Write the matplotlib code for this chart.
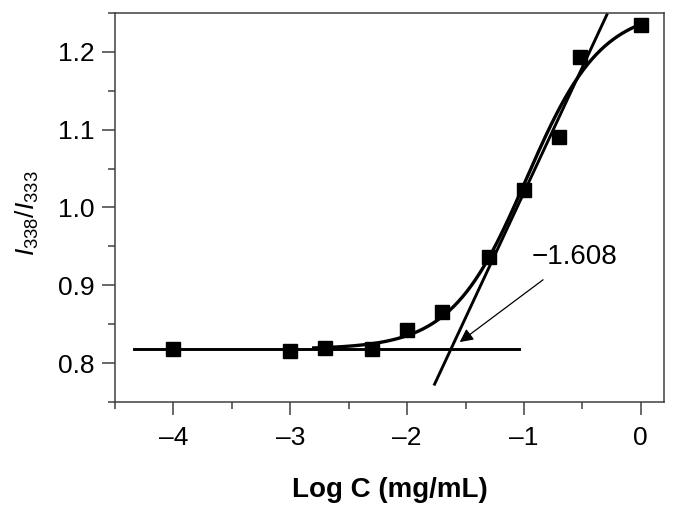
import numpy as np
import matplotlib
matplotlib.use("Agg")
import matplotlib.pyplot as plt
from matplotlib.ticker import MultipleLocator

plt.rcParams['font.family'] = ['Liberation Sans', 'DejaVu Sans']
plt.rcParams['mathtext.fontset'] = 'custom'
plt.rcParams['mathtext.rm'] = 'Liberation Sans'
plt.rcParams['mathtext.it'] = 'Liberation Sans:italic'

# 数据 (log 浓度, 荧光强度比)
log_c = [-4.0, -3.0, -2.699, -2.301, -2.0, -1.699, -1.301, -1.0, -0.699, -0.523, 0.0]
ratio = [0.818, 0.816, 0.819, 0.818, 0.843, 0.866, 0.937, 1.022, 1.090, 1.194, 1.235]

# Boltzmann 拟合参数
A1, A2, x0, dx = 0.818, 1.255, -0.98, 0.32
fit_range = [-2.8, 0.0]

# 基线和切线
base_y = 0.818
base_x = [-4.34, -1.04]
tan_slope = 0.322
tan_x0 = -1.625   # 切线与基线交点
tan_x = [-1.765, -0.29]
cmc_label = "\u22121.608"

fig = plt.figure(figsize=(6.77, 5.11), dpi=100)
ax = fig.add_axes([0.170, 0.2133, 0.811, 0.7613])

xf = np.linspace(fit_range[0], fit_range[1], 300)
yf = A2 + (A1 - A2) / (1 + np.exp((xf - x0) / dx))
ax.plot(xf, yf, color='black', lw=2.4)

ax.plot(base_x, [base_y, base_y], color='black', lw=2.1)
tx = np.array(tan_x)
ax.plot(tx, base_y + tan_slope * (tx - tan_x0), color='black', lw=2.1)

ax.plot(log_c, ratio, 's', color='black', ms=9.5)

ax.annotate(cmc_label, xy=(-1.55, 0.827), xytext=(-0.57, 0.937),
            fontsize=20, ha='center', va='center',
            arrowprops=dict(arrowstyle='-|>', color='black', lw=0.9,
                            mutation_scale=20, shrinkA=9, shrinkB=0))

ax.set_xlim(-4.5, 0.2)
ax.set_ylim(0.75, 1.25)
ax.xaxis.set_minor_locator(MultipleLocator(0.5))
ax.yaxis.set_minor_locator(MultipleLocator(0.05))
ax.set_xticks([-4, -3, -2, -1, 0])
ax.set_xticklabels(["\u2013" + "4", "\u2013" + "3", "\u2013" + "2", "\u2013" + "1", "0"])
ax.set_yticks([0.8, 0.9, 1.0, 1.1, 1.2])
ax.set_yticklabels(["0.8", "0.9", "1.0", "1.1", "1.2"])

for s in ax.spines.values():
    s.set_color('#404040')
    s.set_linewidth(1.1)
ax.tick_params(which='major', direction='out', length=9.5, width=1.1,
               color='#404040', labelsize=19)
ax.tick_params(axis='x', which='major', pad=8)
ax.tick_params(axis='y', which='major', pad=5)
ax.tick_params(which='minor', direction='out', length=5, width=1.1, color='#404040')
ax.tick_params(top=False, right=False, which='both')

ax.set_xlabel("Log C (mg/mL)", fontsize=20, fontweight='bold')
ax.set_ylabel(r"$\mathit{I}_{338}/\mathit{I}_{333}$", fontsize=19)
ax.xaxis.set_label_coords(0.501, -0.226)
ax.yaxis.set_label_coords(-0.160, 0.486)
ax.xaxis.label.set_va('center')
ax.yaxis.label.set_va('center')

fig.savefig("out.png", dpi=100)
